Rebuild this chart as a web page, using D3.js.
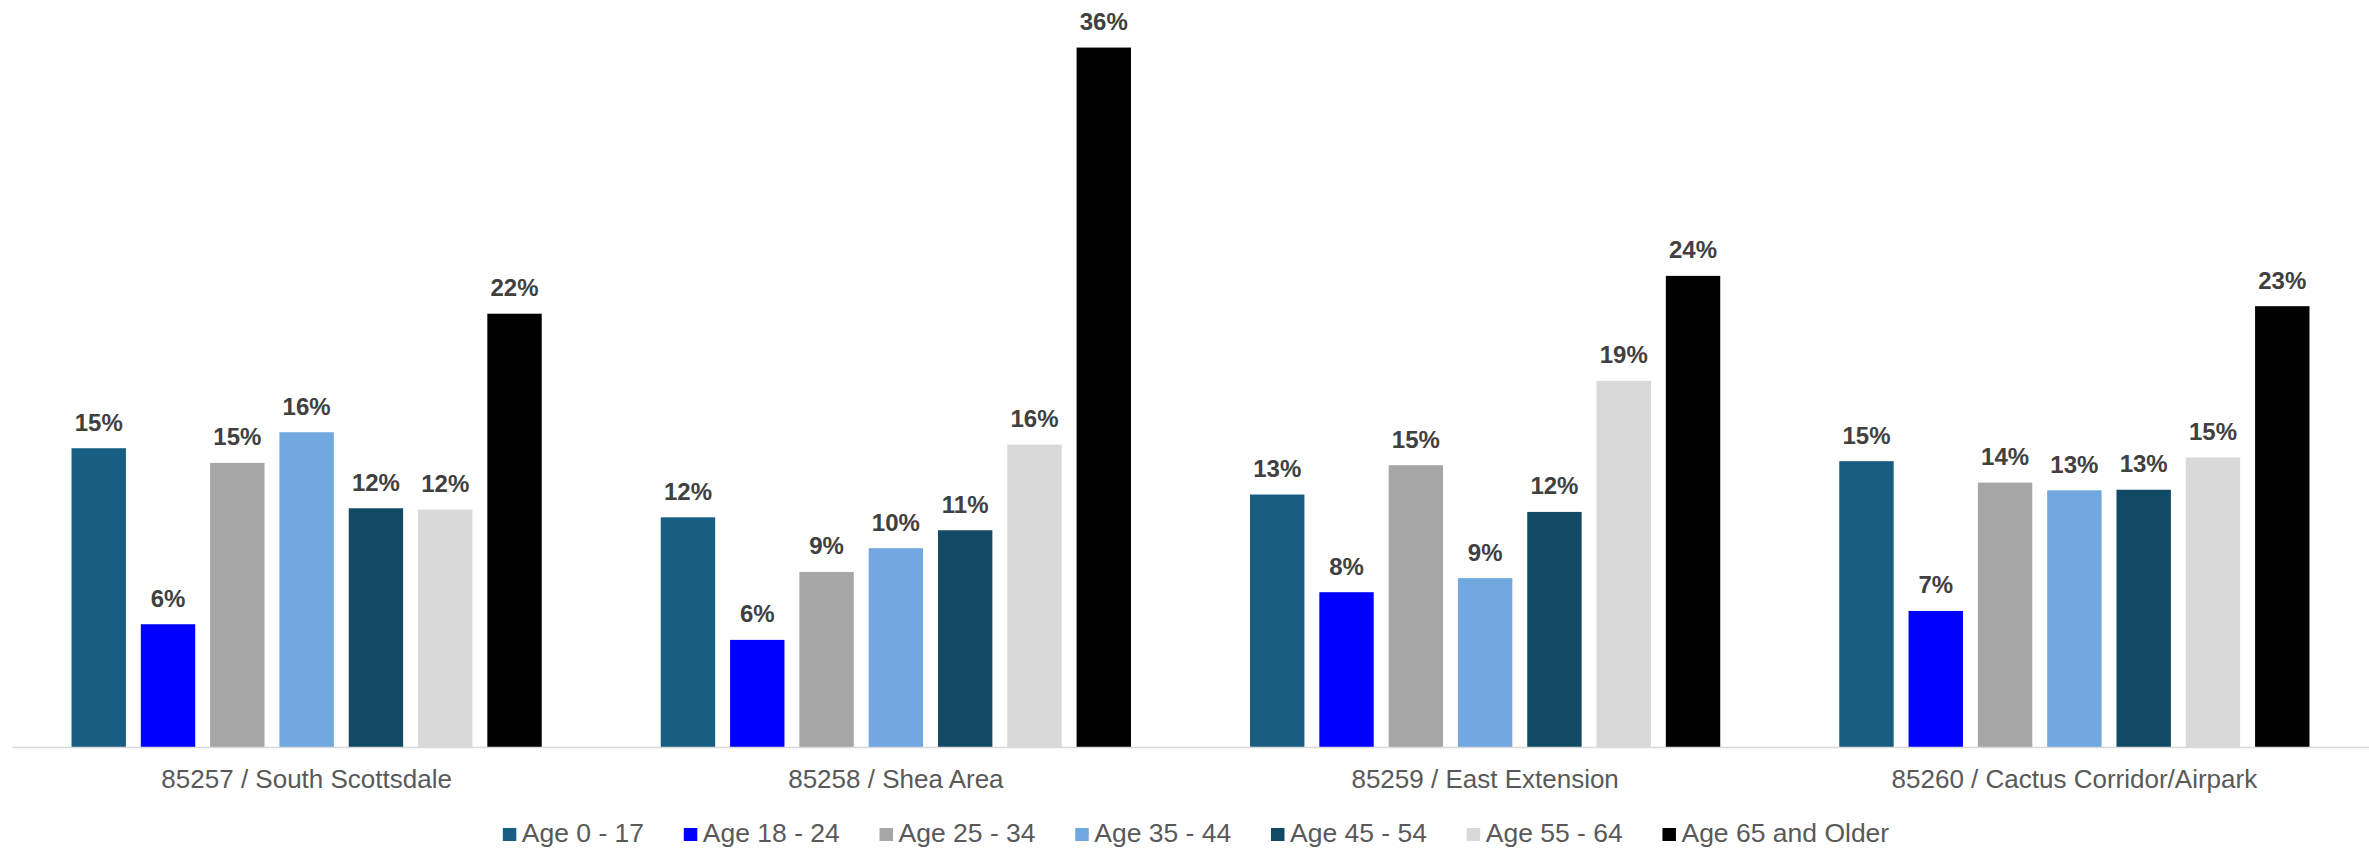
<!DOCTYPE html>
<html>
<head>
<meta charset="utf-8">
<script src="https://cdn.jsdelivr.net/npm/d3@7"></script>
<style>
  html, body { margin: 0; padding: 0; background: #ffffff; }
  svg { display: block; font-family: "Liberation Sans", Arial, sans-serif; }
</style>
</head>
<body>
<svg id="chart" width="2369" height="850"></svg>
<script>
// Zip-code areas along the x axis
const zipAreas = [
  "85257 / South Scottsdale",
  "85258 / Shea Area",
  "85259 / East Extension",
  "85260 / Cactus Corridor/Airpark"
];

// Age groups (series) and their fills
const ageGroups = [
  "Age 0 - 17", "Age 18 - 24", "Age 25 - 34", "Age 35 - 44",
  "Age 45 - 54", "Age 55 - 64", "Age 65 and Older"
];
const ageColors = ["#175E82", "#0000FF", "#A6A6A6", "#70A8DF", "#124A66", "#D9D9D9", "#000000"];

// Share of population (%) per age group, one value per zip area
const age0to17   = [15.48, 11.90, 13.08, 14.81];
const age18to24  = [6.36, 5.55, 8.02, 7.05];
const age25to34  = [14.72, 9.07, 14.60, 13.70];
const age35to44  = [16.31, 10.30, 8.75, 13.30];
const age45to54  = [12.37, 11.23, 12.18, 13.33];
const age55to64  = [12.30, 15.67, 18.97, 15.00];
const age65plus  = [22.45, 36.24, 24.41, 22.84];

const seriesValues = [age0to17, age18to24, age25to34, age35to44, age45to54, age55to64, age65plus];

// Flatten into rows for the grouped bars
const rows = [];
zipAreas.forEach((area, i) => {
  ageGroups.forEach((grp, j) => {
    rows.push({ area, grp, color: ageColors[j], value: seriesValues[j][i] / 100 });
  });
});

const svg = d3.select("#chart");
const plotLeft = 12, plotRight = 2369, baseline = 747;

const x0 = d3.scaleBand()
  .domain(zipAreas)
  .range([plotLeft, plotRight])
  .paddingInner(0.202)
  .paddingOuter(0.101);

const x1 = d3.scaleBand()
  .domain(ageGroups)
  .range([0, x0.bandwidth()])
  .paddingInner(0.215)
  .paddingOuter(0);

const y = d3.scaleLinear()
  .domain([0, 0.38])
  .range([baseline, baseline - 0.38 * 1930]);

const pct = d3.format(".0%");

// Bars
svg.append("g")
  .selectAll("rect")
  .data(rows)
  .join("rect")
  .attr("x", d => x0(d.area) + x1(d.grp))
  .attr("y", d => y(d.value))
  .attr("width", x1.bandwidth())
  .attr("height", d => y(0) - y(d.value))
  .attr("fill", d => d.color);

// Value labels above bars
svg.append("g")
  .selectAll("text")
  .data(rows)
  .join("text")
  .attr("x", d => x0(d.area) + x1(d.grp) + x1.bandwidth() / 2)
  .attr("y", d => y(d.value) - 17.5)
  .attr("text-anchor", "middle")
  .attr("font-size", 24)
  .attr("font-weight", "bold")
  .attr("fill", "#404040")
  .text(d => pct(d.value));

// Category axis
const xAxis = svg.append("g")
  .attr("transform", `translate(0,${baseline})`)
  .call(d3.axisBottom(x0).tickSize(0).tickPadding(0).tickSizeOuter(0));
xAxis.select(".domain")
  .attr("stroke", "#D9D9D9")
  .attr("stroke-width", 1.5);
xAxis.selectAll(".tick text")
  .attr("font-family", "\"Liberation Sans\", Arial, sans-serif")
  .attr("font-size", 26)
  .attr("fill", "#595959")
  .attr("dy", null)
  .attr("y", 41);

// Legend, centred below the axis
const legend = svg.append("g").attr("transform", "translate(0,842)");
const items = legend.selectAll("g")
  .data(ageGroups)
  .join("g");
items.append("rect")
  .attr("y", -14)
  .attr("width", 13.5)
  .attr("height", 13)
  .attr("fill", (d, i) => ageColors[i]);
items.append("text")
  .attr("x", 19)
  .attr("font-size", 26.5)
  .attr("fill", "#595959")
  .text(d => d);

let cursor = 0;
const offsets = [];
items.each(function () {
  offsets.push(cursor);
  const w = d3.select(this).select("text").node().getComputedTextLength();
  cursor += 19 + w + 39.7;
});
const totalWidth = cursor - 39.7;
const legendStart = 1196 - totalWidth / 2;
items.attr("transform", (d, i) => `translate(${legendStart + offsets[i]},0)`);
</script>
</body>
</html>
